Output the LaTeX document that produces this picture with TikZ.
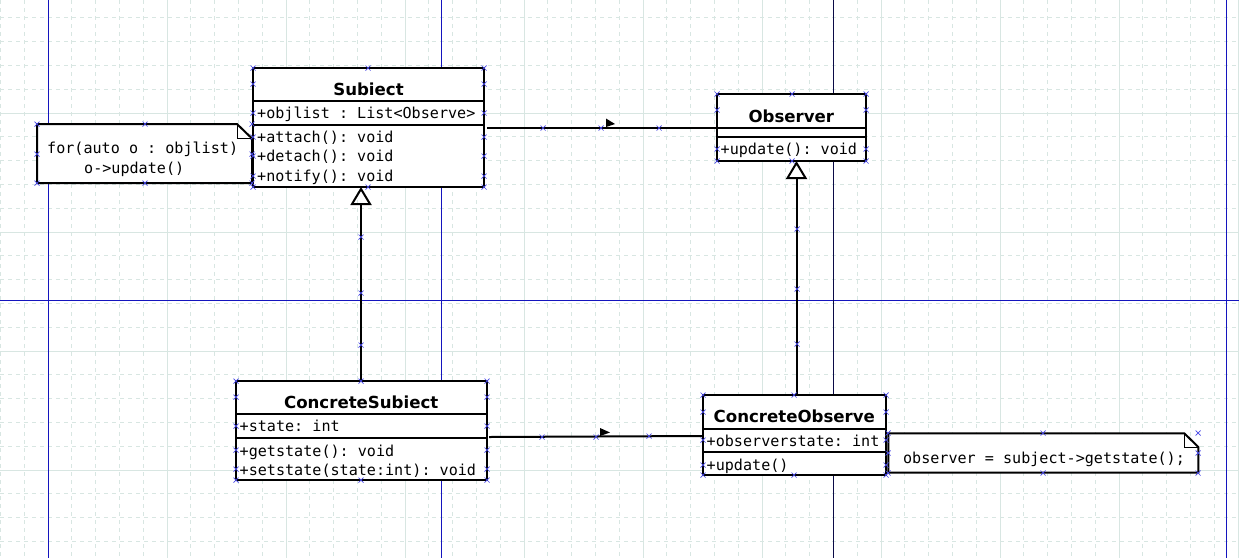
\documentclass[tikz,border=0pt]{standalone}
\usepackage{fontspec}
\setmonofont{DejaVu Sans Mono}
\setsansfont{DejaVu Sans}
\usetikzlibrary{arrows.meta}
\definecolor{gridc}{RGB}{216,230,226}
\definecolor{guideblue}{RGB}{20,20,190}
\definecolor{guidenavy}{RGB}{10,10,70}
\definecolor{mkc}{RGB}{70,70,230}
\tikzset{
  box/.style={draw=black, line width=2pt, fill=white, inner sep=0pt, outer sep=0pt, anchor=north west},
  sepline/.style={line width=2pt},
  mono/.style={font=\ttfamily\fontsize{15.1}{18}\selectfont, inner sep=0pt, text height=12pt, text depth=1pt},
  ttl/.style={font=\sffamily\bfseries\fontsize{16.6}{20}\selectfont, inner sep=0pt, text height=13pt, text depth=1pt},
  conn/.style={line width=2pt},
  gen/.style={conn, -{Triangle[open, length=18pt, width=21pt, line width=2pt]}},
  notebox/.style={draw=black, line width=2pt, fill=white, line join=miter},
  fold/.style={draw=black, line width=1pt},
  gridd/.style={draw=gridc, line width=1pt, dash pattern=on 4pt off 4pt},
  grids/.style={draw=gridc, line width=1pt},
  guide/.style={line width=1pt},
  mkst/.style={draw=mkc, line width=0.7pt},
  navtip/.style={fill=black}
}
\begin{document}
\begin{tikzpicture}[x=1pt,y=-1pt]
\useasboundingbox (0,0) rectangle (1239,558);
\fill[white] (0,0) rectangle (1239,558);
\begin{scope}
\clip (0,0) rectangle (1239,558);
% grid
\foreach \k in {0,...,52} \draw[gridd] ({0.4+23.8*\k},0) -- ++(0,558);
\foreach \k in {0,...,10} \draw[grids] ({0.4+23.8*(5*\k+2)},0) -- ++(0,558);
\foreach \k in {1,...,24} \draw[gridd] (0,{-6+23.8*\k}) -- ++(1239,0);
\foreach \k in {1,...,4} \draw[grids] (0,{-6+119*\k}) -- ++(1239,0);
% guide lines
\draw[guide, guideblue] (48,0) -- (48,558);
\draw[guide, guideblue] (441,0) -- (441,558);
\draw[guide, guideblue] (1226,0) -- (1226,558);
\draw[guide, guideblue] (0,300) -- (1239,300);
\draw[guide, guidenavy] (833,0) -- (833,558);
\end{scope}

% ---------- Subiect ----------
\node[box, minimum width=231pt, minimum height=119pt] (subj) at (253,68) {};
\draw[sepline] (253,101.3) -- (484,101.3);
\draw[sepline] (253,125.3) -- (484,125.3);
\node[ttl] (subjT) at (368.5,89) {Subiect};
\node[mono, anchor=west] (subjA) at (257,113) {+objlist : List<Observe>};
\node[mono, anchor=west] (subjM1) at (257,137) {+attach(): void};
\node[mono, anchor=west] (subjM2) at (257,156) {+detach(): void};
\node[mono, anchor=west] (subjM3) at (257,175.5) {+notify(): void};

% ---------- note 1 ----------
\draw[notebox] (37,124) -- (237,124) -- (252,138.5) -- (252,183) -- (37,183) -- cycle;
\draw[fold] (237,124) -- (237,138.5) -- (252,138.5);
\node[mono, anchor=west] (n1a) at (47,148) {for(auto o : objlist)};
\node[mono, anchor=west] (n1b) at (84,167.5) {o->update()};

% ---------- Observer ----------
\node[box, minimum width=149.3pt, minimum height=66.7pt] (obs) at (716.7,94) {};
\draw[sepline] (716.7,128.3) -- (866,128.3);
\draw[sepline] (716.7,136.7) -- (866,136.7);
\node[ttl] (obsT) at (791.3,116) {Observer};
\node[mono, anchor=west] (obsM) at (720.5,149) {+update(): void};

% ---------- ConcreteSubiect ----------
\node[box, minimum width=251pt, minimum height=99.3pt] (csubj) at (235.7,380.7) {};
\draw[sepline] (235.7,413.7) -- (486.7,413.7);
\draw[sepline] (235.7,438) -- (486.7,438);
\node[ttl] (csubjT) at (361.2,402.3) {ConcreteSubiect};
\node[mono, anchor=west] (csubjA) at (239.5,426) {+state: int};
\node[mono, anchor=west] (csubjM1) at (239.5,451) {+getstate(): void};
\node[mono, anchor=west] (csubjM2) at (239.5,469.5) {+setstate(state:int): void};

% ---------- ConcreteObserve ----------
\node[box, minimum width=183.3pt, minimum height=80pt] (cobs) at (702.7,395) {};
\draw[sepline] (702.7,428.7) -- (886,428.7);
\draw[sepline] (702.7,452) -- (886,452);
\node[ttl] (cobsT) at (794.3,416.5) {ConcreteObserve};
\node[mono, anchor=west] (cobsA) at (706.5,440.5) {+observerstate: int};
\node[mono, anchor=west] (cobsM) at (706.5,465) {+update()};

% ---------- note 2 ----------
\draw[notebox] (888.3,433.3) -- (1184.3,433.3) -- (1198.3,447) -- (1198.3,472.7) -- (888.3,472.7) -- cycle;
\draw[fold] (1184.3,433.3) -- (1184.3,447) -- (1198.3,447);
\node[mono] (n2) at (1044,457.5) {observer = subject->getstate();};

% ---------- connectors ----------
\coordinate (a1s) at (487,128);
\draw[conn] (a1s) -- (obs.west |- a1s);
\fill[navtip] (606,118.5) -- (615,124) -- (606,127) -- cycle;

\coordinate (a2s) at (489,437);
\coordinate (a2e) at (702.7,436);
\draw[conn] (a2s) -- (a2e);
\fill[navtip] (600,428) -- (610,432.5) -- (600,436) -- cycle;

\coordinate (g1s) at (361,380.7);
\coordinate (g1e) at (361,187);
\draw[gen] (g1s) -- (g1e);

\coordinate (g2s) at (796.5,395);
\coordinate (g2e) at (796.5,161);
\draw[gen] (g2s) -- (g2e);

% ---------- connection markers ----------
\foreach \p in {
  {253,68},{368,68},{484,68},{253,84},{484,84},{253,113},{484,113},{253,137},{484,137},
  {253,156},{484,156},{253,176},{484,176},{253,187},{368,187},{484,187},
  {717,94},{792,94},{866,94},{717,110},{866,110},{717,149},{866,149},{717,161},{792,161},{866,161},
  {236,381},{361,381},{487,381},{236,397},{487,397},{236,426},{487,426},{236,450},{487,450},
  {236,469},{487,469},{236,480},{361,480},{487,480},
  {703,395},{794,395},{886,395},{703,412},{886,412},{703,440},{886,440},{703,465},{886,465},
  {703,475},{794,475},{886,475},
  {37,124},{145,124},{252,124},{37,154},{252,154},{37,183},{145,183},{252,183},
  {888,433},{1043,433},{1198,433},{888,453},{1198,453},{888,473},{1043,473},{1198,473},
  {543,128},{601,128},{659,128},{542,437},{596,437},{649,436},
  {361,237},{361,293},{361,345},{797,229},{797,289},{797,344}}
{
  \draw[mkst] (\p) ++(-2.5,-2.5) -- ++(5,5) ++(0,-5) -- ++(-5,5);
}
\end{tikzpicture}
\end{document}
